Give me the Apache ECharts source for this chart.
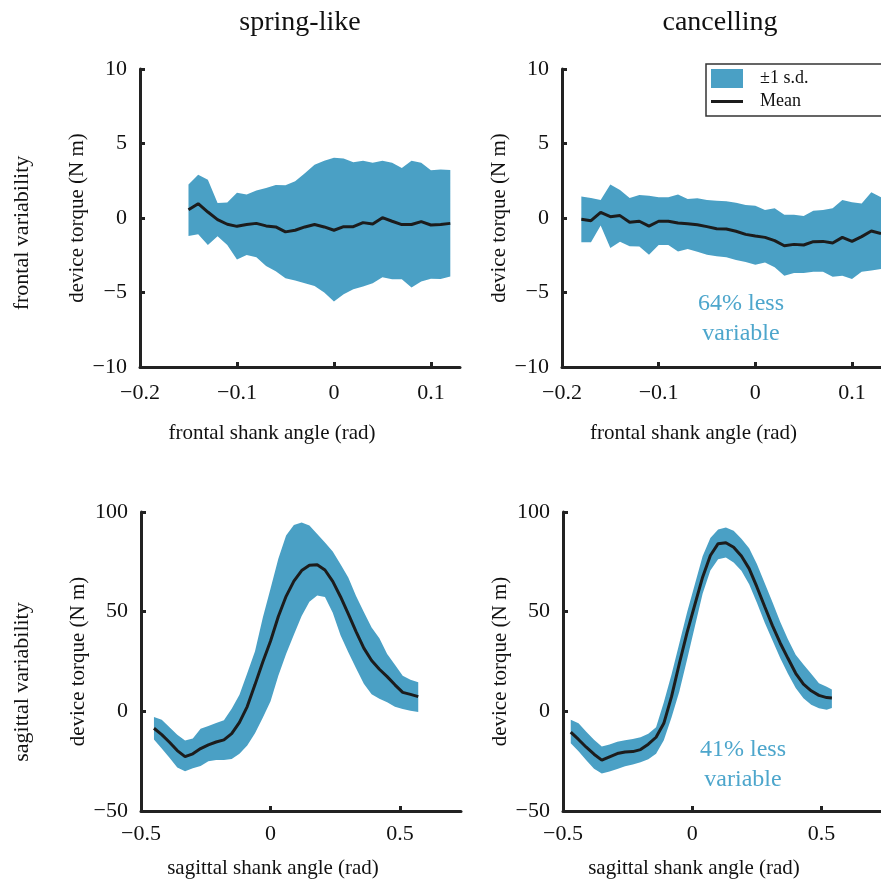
<!DOCTYPE html>
<html>
<head>
<meta charset="utf-8">
<script src="https://cdn.jsdelivr.net/npm/echarts@6/dist/echarts.min.js"></script>
<style>html,body{margin:0;padding:0;background:#fff}#c{width:881px;height:883px}</style>
</head>
<body>
<div id="c"></div>
<script>
// ---------- data ----------
const columnTitles = ['spring-like', 'cancelling'];
const rowTitles = ['frontal variability', 'sagittal variability'];
const frontalTicksX = [-0.2, -0.1, 0, 0.1];
const frontalTicksY = [-10, -5, 0, 5, 10];
const sagittalTicksX = [-0.5, 0, 0.5];
const sagittalTicksY = [-50, 0, 50, 100];

// frontal, spring-like
const frSpringAngle = [-0.15,-0.14,-0.13,-0.12,-0.11,-0.10,-0.09,-0.08,-0.07,-0.06,-0.05,-0.04,-0.03,-0.02,-0.01,0.00,0.01,0.02,0.03,0.04,0.05,0.06,0.07,0.08,0.09,0.10,0.11,0.12];
const frSpringMean  = [0.56,0.96,0.40,-0.11,-0.42,-0.56,-0.44,-0.36,-0.53,-0.60,-0.93,-0.82,-0.60,-0.44,-0.60,-0.82,-0.58,-0.58,-0.31,-0.40,0.02,-0.22,-0.44,-0.44,-0.24,-0.47,-0.44,-0.36];
const frSpringUpper = [2.24,2.91,2.56,1.00,1.04,1.69,1.58,1.84,2.02,2.22,2.20,2.47,3.00,3.58,3.85,4.05,4.00,3.75,3.85,3.70,3.85,3.70,3.36,3.85,3.70,3.20,3.25,3.22];
const frSpringLower = [-1.20,-1.09,-1.82,-1.22,-1.82,-2.78,-2.49,-2.64,-3.22,-3.58,-4.04,-4.20,-4.38,-4.56,-5.00,-5.60,-5.11,-4.78,-4.60,-4.38,-3.98,-4.11,-4.11,-4.67,-4.27,-4.07,-4.09,-3.93];

// frontal, cancelling
const frCancelAngle = [-0.18,-0.17,-0.16,-0.15,-0.14,-0.13,-0.12,-0.11,-0.10,-0.09,-0.08,-0.07,-0.06,-0.05,-0.04,-0.03,-0.02,-0.01,0.00,0.01,0.02,0.03,0.04,0.05,0.06,0.07,0.08,0.09,0.10,0.11,0.12,0.13];
const frCancelMean  = [-0.09,-0.18,0.38,0.09,0.16,-0.29,-0.22,-0.54,-0.22,-0.22,-0.34,-0.38,-0.45,-0.58,-0.72,-0.74,-0.89,-1.10,-1.21,-1.30,-1.52,-1.86,-1.77,-1.81,-1.59,-1.57,-1.68,-1.30,-1.57,-1.25,-0.87,-1.05];
const frCancelUpper = [1.45,1.34,1.21,2.24,1.88,1.34,1.54,1.50,1.39,1.39,1.57,1.28,1.32,1.21,1.16,1.12,1.03,0.87,0.83,0.54,0.65,0.22,0.22,0.13,0.49,0.54,0.65,1.21,1.05,0.98,1.72,1.39];
const frCancelLower = [-1.63,-1.63,-0.51,-2.01,-1.59,-1.90,-1.92,-2.46,-1.81,-1.81,-2.24,-2.08,-2.26,-2.46,-2.57,-2.64,-2.82,-2.95,-3.13,-2.98,-3.31,-3.87,-3.69,-3.69,-3.60,-3.60,-3.94,-3.87,-4.09,-3.60,-3.53,-3.42];

// sagittal, spring-like
const sgSpringAngle = [-0.45,-0.42,-0.39,-0.36,-0.33,-0.30,-0.27,-0.24,-0.21,-0.18,-0.15,-0.12,-0.09,-0.06,-0.03,0.00,0.03,0.06,0.09,0.12,0.15,0.18,0.21,0.24,0.27,0.30,0.33,0.36,0.39,0.42,0.45,0.48,0.51,0.54,0.57];
const sgSpringMean  = [-8.5,-11.7,-15.5,-19.7,-22.7,-21.3,-18.7,-16.8,-15.4,-14.3,-11.2,-5.5,2.4,13.4,24.8,35.3,47.6,57.7,65.3,70.6,73.3,73.5,70.9,65.2,57.5,48.9,40.0,31.7,25.5,21.1,17.4,13.3,9.5,8.5,7.4];
const sgSpringUpper = [-2.8,-4.2,-8.0,-11.8,-14.6,-13.6,-8.8,-7.3,-5.8,-4.5,1.3,8.3,19.1,30.1,47.0,61.6,76.6,88.2,93.5,94.7,93.2,89.0,84.7,80.2,73.8,67.1,57.8,49.8,42.0,36.7,28.7,23.4,17.9,15.9,14.6];
const sgSpringLower = [-14.1,-18.6,-23.3,-28.2,-30.1,-28.6,-27.4,-25.1,-24.4,-24.4,-23.9,-21.3,-17.1,-11.0,-3.2,5.0,17.8,28.7,38.4,47.8,55.0,58.1,57.3,49.5,38.2,29.7,21.6,13.8,8.6,6.3,4.5,2.3,1.2,0.3,-0.3];

// sagittal, cancelling
const sgCancelAngle = [-0.47,-0.44,-0.41,-0.38,-0.35,-0.32,-0.29,-0.26,-0.23,-0.20,-0.17,-0.14,-0.11,-0.08,-0.05,-0.02,0.01,0.04,0.07,0.10,0.13,0.16,0.19,0.22,0.25,0.28,0.31,0.34,0.37,0.40,0.43,0.46,0.49,0.52,0.54];
const sgCancelMean  = [-10.4,-14.1,-18.0,-21.5,-24.5,-22.8,-21.2,-20.4,-20.2,-19.2,-16.5,-13.0,-6.0,7.5,24.0,39.6,53.5,67.3,78.2,84.1,84.6,82.3,77.9,71.6,62.4,52.6,43.0,34.3,26.6,19.1,13.6,10.3,8.0,6.9,6.7];
const sgCancelUpper = [-4.2,-6.0,-10.2,-14.3,-17.6,-16.6,-15.2,-14.5,-13.9,-13.0,-11.3,-8.0,4.5,18.6,34.2,49.7,63.8,77.8,87.0,91.2,92.2,90.6,86.6,81.8,73.9,64.4,54.8,45.0,36.2,28.4,23.5,18.8,14.1,12.3,10.9];
const sgCancelLower = [-16.0,-20.0,-24.5,-28.8,-31.2,-30.2,-28.9,-27.6,-26.7,-25.5,-24.1,-21.3,-14.5,-3.0,10.0,26.0,42.6,59.0,70.7,76.3,77.2,74.7,70.5,63.7,54.5,44.6,35.6,26.8,18.8,11.7,6.6,3.3,1.5,0.8,1.7];

const notes = ['64% less\nvariable', '41% less\nvariable'];
const legendNames = ['\u00b11 s.d.', 'Mean'];

// ---------- styling ----------
const FONT = '"Liberation Serif", "Times New Roman", serif';
const BAND = '#4aa0c5';
const NOTE = '#4da6cc';
const INK = '#1c1c1c';
const AX = '#222';

const panels = [
  {x: frSpringAngle, m: frSpringMean, hi: frSpringUpper, lo: frSpringLower, grid: {left:140, top:69, width:320, height:298}, xr:[-0.2,0.13], yr:[-10,10], yi:5, xt: frontalTicksX, xname:'frontal shank angle (rad)', lm: 15, ng: 56},
  {x: frCancelAngle, m: frCancelMean, hi: frCancelUpper, lo: frCancelLower, grid: {left:562, top:69, width:320, height:298}, xr:[-0.2,0.13], yr:[-10,10], yi:5, xt: frontalTicksX, xname:'frontal shank angle (rad)', lm: 15, ng: 56},
  {x: sgSpringAngle, m: sgSpringMean, hi: sgSpringUpper, lo: sgSpringLower, grid: {left:141, top:512, width:320, height:299}, xr:[-0.5,0.735], yr:[-50,100], yi:50, xt: sagittalTicksX, xname:'sagittal shank angle (rad)', lm: 12, ng: 47},
  {x: sgCancelAngle, m: sgCancelMean, hi: sgCancelUpper, lo: sgCancelLower, grid: {left:563, top:512, width:320, height:299}, xr:[-0.5,0.73], yr:[-50,100], yi:50, xt: sagittalTicksX, xname:'sagittal shank angle (rad)', lm: 12, ng: 47}
];

const fmt = v => (v < 0 ? '\u2212' + Math.abs(v) : String(v));
const labelStyle = {fontFamily: FONT, fontSize: 22, color: '#111'};

const grids = [], xAxes = [], yAxes = [], series = [];
panels.forEach((p, i) => {
  grids.push(Object.assign({containLabel: false}, p.grid));
  xAxes.push({
    type: 'value', gridIndex: i, min: p.xr[0], max: p.xr[1],
    axisLine: {show: true, onZero: false, lineStyle: {color: AX, width: 3}},
    axisTick: {show: true, inside: true, length: 5, customValues: p.xt, lineStyle: {color: AX, width: 3}},
    axisLabel: Object.assign({margin: p.lm, customValues: p.xt, formatter: fmt}, labelStyle),
    splitLine: {show: false},
    name: p.xname, nameLocation: 'middle', nameGap: p.ng,
    nameTextStyle: {fontFamily: FONT, fontSize: 21, color: '#111', padding: [0, 56, 0, 0]}
  });
  yAxes.push({
    type: 'value', gridIndex: i, min: p.yr[0], max: p.yr[1], interval: p.yi,
    axisLine: {show: true, onZero: false, lineStyle: {color: AX, width: 3}},
    axisTick: {show: true, inside: true, length: 5, lineStyle: {color: AX, width: 3}},
    axisLabel: Object.assign({margin: 13, formatter: fmt}, labelStyle),
    splitLine: {show: false},
    name: 'device torque (N m)', nameLocation: 'middle', nameGap: 52,
    nameTextStyle: {fontFamily: FONT, fontSize: 21, color: '#111'}
  });
  const xs = p.x, hi = p.hi, lo = p.lo;
  series.push({
    type: 'custom', name: legendNames[0], xAxisIndex: i, yAxisIndex: i, silent: true, z: 2,
    data: xs.map((x, k) => [x, lo[k], hi[k]]),
    encode: {x: 0, y: [1, 2]},
    renderItem: function (params, api) {
      if (params.dataIndex !== 0) return {type: 'group', children: []};
      const pts = [];
      for (let k = 0; k < xs.length; k++) pts.push(api.coord([xs[k], hi[k]]));
      for (let k = xs.length - 1; k >= 0; k--) pts.push(api.coord([xs[k], lo[k]]));
      return {type: 'polygon', shape: {points: pts}, style: {fill: BAND}};
    }
  });
  series.push({
    type: 'line', name: legendNames[1], xAxisIndex: i, yAxisIndex: i, z: 3,
    data: xs.map((x, k) => [x, p.m[k]]),
    showSymbol: false, silent: true,
    lineStyle: {color: INK, width: 3}
  });
});

const txt = (text, x, y, size, color, rot) => ({
  type: 'text', x: x, y: y, rotation: rot || 0, z: 10,
  style: {text: text, fill: color || '#111', font: size + 'px ' + FONT, textAlign: 'center', textVerticalAlign: 'middle', lineHeight: 30}
});

const graphic = [
  txt(columnTitles[0], 300, 23, 28),
  txt(columnTitles[1], 720, 23, 28),
  txt(rowTitles[0], 22, 233, 22, '#111', Math.PI / 2),
  txt(rowTitles[1], 22, 682, 22, '#111', Math.PI / 2),
  txt(notes[0], 741, 319, 24, NOTE),
  txt(notes[1], 743, 765, 24, NOTE),
  {type: 'rect', z: 20, shape: {x: 706, y: 64, width: 190, height: 52}, style: {fill: '#fff', stroke: '#333', lineWidth: 1.5}},
  {type: 'rect', z: 21, shape: {x: 711, y: 69, width: 32, height: 19}, style: {fill: BAND}},
  {type: 'line', z: 21, shape: {x1: 711, y1: 101.5, x2: 743, y2: 101.5}, style: {stroke: INK, lineWidth: 3}},
  {type: 'text', z: 21, x: 760, y: 78, style: {text: legendNames[0], fill: '#111', font: '18px ' + FONT, textVerticalAlign: 'middle'}},
  {type: 'text', z: 21, x: 760, y: 101, style: {text: legendNames[1], fill: '#111', font: '18px ' + FONT, textVerticalAlign: 'middle'}}
];

const chart = echarts.init(document.getElementById('c'), null, {renderer: 'canvas'});
chart.setOption({
  animation: false,
  backgroundColor: '#fff',
  grid: grids, xAxis: xAxes, yAxis: yAxes, series: series, graphic: graphic
});
</script>
</body>
</html>
